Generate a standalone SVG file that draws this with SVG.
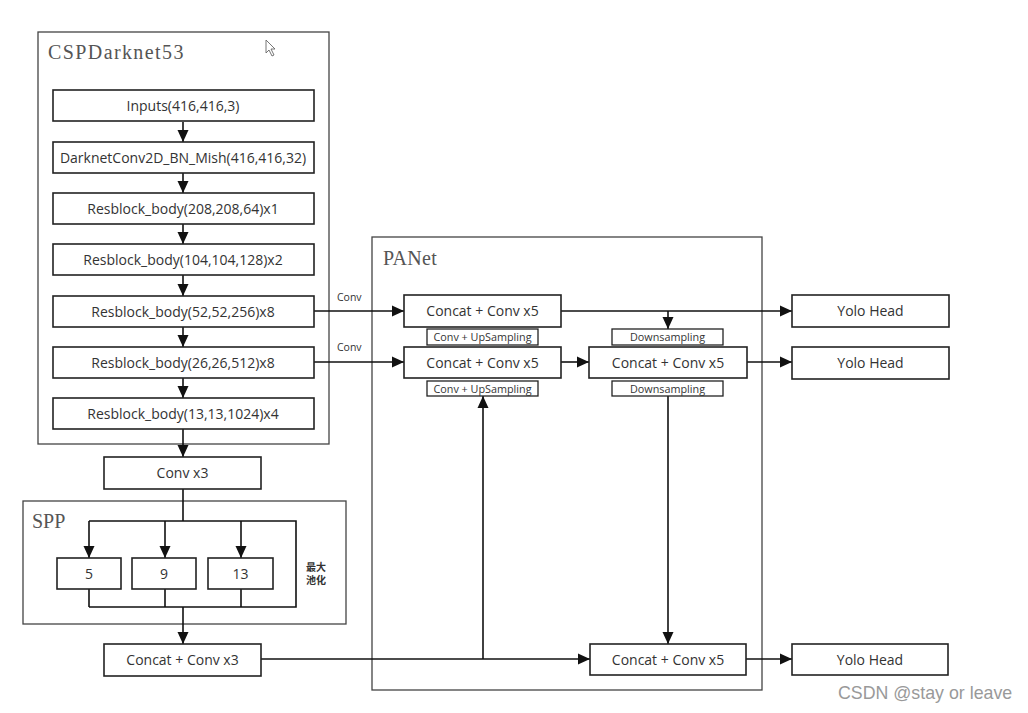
<svg xmlns="http://www.w3.org/2000/svg" width="1028" height="713" viewBox="0 0 1028 713">
<style>
.bg{fill:#fff}
.group{fill:none;stroke:#444;stroke-width:1.3}
.box{fill:#fff;stroke:#222;stroke-width:1.6}
.sbox{fill:#fff;stroke:#222;stroke-width:1.3}
.t{font-family:"Open Sans","Noto Sans",sans-serif;font-size:14px;fill:#333;text-anchor:middle}
.st{font-family:"Open Sans","Noto Sans",sans-serif;font-size:10.8px;fill:#333;text-anchor:middle}
.lbl{font-family:"Open Sans","Noto Sans",sans-serif;font-size:10.5px;fill:#333}
.title{font-family:"Liberation Serif",serif;font-size:20px;fill:#555}
.cn{font-family:"Noto Sans CJK SC",sans-serif;font-size:10px;font-weight:bold;fill:#333}
.wm{font-family:"Liberation Sans",sans-serif;font-size:17.8px;fill:#999}
.c{fill:none;stroke:#111;stroke-width:1.6}
.a{marker-end:url(#arr)}
</style>
<defs>
<marker id="arr" markerUnits="userSpaceOnUse" markerWidth="12" markerHeight="12" viewBox="0 0 12 12" refX="12" refY="6" orient="auto">
<path d="M0,0.5 L12,6 L0,11.5 Z" fill="#111"/>
</marker>
</defs>
<rect class="bg" width="1028" height="713"/>

<g id="cspdarknet53">
<rect class="group" x="38" y="32" width="291" height="412"/>
<text class="title" x="48" y="59" letter-spacing="1.4">CSPDarknet53</text>
</g>
<g id="spp">
<rect class="group" x="23" y="501" width="323" height="123"/>
<text class="title" x="32" y="528">SPP</text>
</g>
<g id="panet">
<rect class="group" x="372" y="237" width="390" height="453"/>
<text class="title" x="383" y="265" letter-spacing="0.3">PANet</text>
</g>

<g id="connectors">
<path class="c a" d="M183,122 V142"/>
<path class="c a" d="M183,173 V193"/>
<path class="c a" d="M183,224 V244"/>
<path class="c a" d="M183,275 V296"/>
<path class="c a" d="M183,327 V347"/>
<path class="c a" d="M183,378 V398"/>
<path class="c a" d="M183,429 V457"/>
<path class="c" d="M183,489 V521 M89,521 H296 V607 H89 M89,589 V607 M165,589 V607 M241,589 V607"/>
<path class="c a" d="M89,521 V558"/>
<path class="c a" d="M165,521 V558"/>
<path class="c a" d="M241,521 V558"/>
<path class="c a" d="M183,607 V644"/>
<path class="c a" d="M314,311 H404"/>
<path class="c a" d="M314,362 H404"/>
<path class="c a" d="M561,311 H792"/>
<path class="c a" d="M668,311 V329"/>
<path class="c a" d="M561,362 H589"/>
<path class="c a" d="M747,362 H792"/>
<path class="c a" d="M668,396 V644"/>
<path class="c a" d="M261,659 H590"/>
<path class="c a" d="M483,659 V396"/>
<path class="c a" d="M746,659 H792"/>
</g>

<g id="conv-label-1"><text class="lbl" x="337" y="301">Conv</text></g>
<g id="conv-label-2"><text class="lbl" x="337" y="351">Conv</text></g>

<g id="inputs"><rect class="box" x="53" y="90" width="261" height="31"/><text class="t" x="183" y="110.5">Inputs(416,416,3)</text></g>
<g id="darknetconv"><rect class="box" x="53" y="142" width="261" height="31"/><text class="t" x="183" y="162.5">DarknetConv2D_BN_Mish(416,416,32)</text></g>
<g id="res1"><rect class="box" x="53" y="193" width="261" height="31"/><text class="t" x="183" y="213.5">Resblock_body(208,208,64)x1</text></g>
<g id="res2"><rect class="box" x="53" y="244" width="261" height="31"/><text class="t" x="183" y="264.5">Resblock_body(104,104,128)x2</text></g>
<g id="res3"><rect class="box" x="53" y="296" width="261" height="31"/><text class="t" x="183" y="316.5">Resblock_body(52,52,256)x8</text></g>
<g id="res4"><rect class="box" x="53" y="347" width="261" height="31"/><text class="t" x="183" y="367.5">Resblock_body(26,26,512)x8</text></g>
<g id="res5"><rect class="box" x="53" y="398" width="261" height="31"/><text class="t" x="183" y="418.5">Resblock_body(13,13,1024)x4</text></g>

<g id="convx3"><rect class="box" x="104" y="457" width="157" height="32"/><text class="t" x="182.5" y="478">Conv x3</text></g>
<g id="pool5"><rect class="box" x="57" y="558" width="64" height="31"/><text class="t" x="89" y="578.5">5</text></g>
<g id="pool9"><rect class="box" x="132" y="558" width="64" height="31"/><text class="t" x="164" y="578.5">9</text></g>
<g id="pool13"><rect class="box" x="208" y="558" width="65" height="31"/><text class="t" x="240.5" y="578.5">13</text></g>
<g id="maxpool-label"><text class="cn" x="306" y="571">最大</text><text class="cn" x="306" y="584">池化</text></g>
<g id="concatx3"><rect class="box" x="104" y="644" width="157" height="32"/><text class="t" x="182.5" y="665">Concat + Conv x3</text></g>

<g id="concat-top"><rect class="box" x="404" y="295" width="157" height="32"/><text class="t" x="482.5" y="316">Concat + Conv x5</text></g>
<g id="upsample-1"><rect class="sbox" x="427" y="329" width="111" height="16"/><text class="st" x="482.5" y="341">Conv + UpSampling</text></g>
<g id="concat-mid"><rect class="box" x="404" y="347" width="157" height="31"/><text class="t" x="482.5" y="367.5">Concat + Conv x5</text></g>
<g id="upsample-2"><rect class="sbox" x="427" y="381" width="111" height="15"/><text class="st" x="482.5" y="392.5">Conv + UpSampling</text></g>
<g id="downsample-1"><rect class="sbox" x="612" y="329" width="111" height="16"/><text class="st" x="667.5" y="341">Downsampling</text></g>
<g id="concat-right"><rect class="box" x="589" y="347" width="158" height="31"/><text class="t" x="668" y="367.5">Concat + Conv x5</text></g>
<g id="downsample-2"><rect class="sbox" x="612" y="381" width="111" height="15"/><text class="st" x="667.5" y="392.5">Downsampling</text></g>
<g id="concat-bottom"><rect class="box" x="590" y="644" width="156" height="31"/><text class="t" x="668" y="664.5">Concat + Conv x5</text></g>

<g id="yolo1"><rect class="box" x="792" y="295" width="157" height="32"/><text class="t" x="870.5" y="316">Yolo Head</text></g>
<g id="yolo2"><rect class="box" x="792" y="347" width="157" height="32"/><text class="t" x="870.5" y="368">Yolo Head</text></g>
<g id="yolo3"><rect class="box" x="792" y="644" width="156" height="31"/><text class="t" x="870" y="664.5">Yolo Head</text></g>

<text class="wm" x="838" y="699">CSDN @stay or leave</text>
<path d="M266,40 V53 L269,50 L272,56 L274,55 L271,49 L275,49 Z" fill="#fff" stroke="#666" stroke-width="0.9"/>
</svg>
